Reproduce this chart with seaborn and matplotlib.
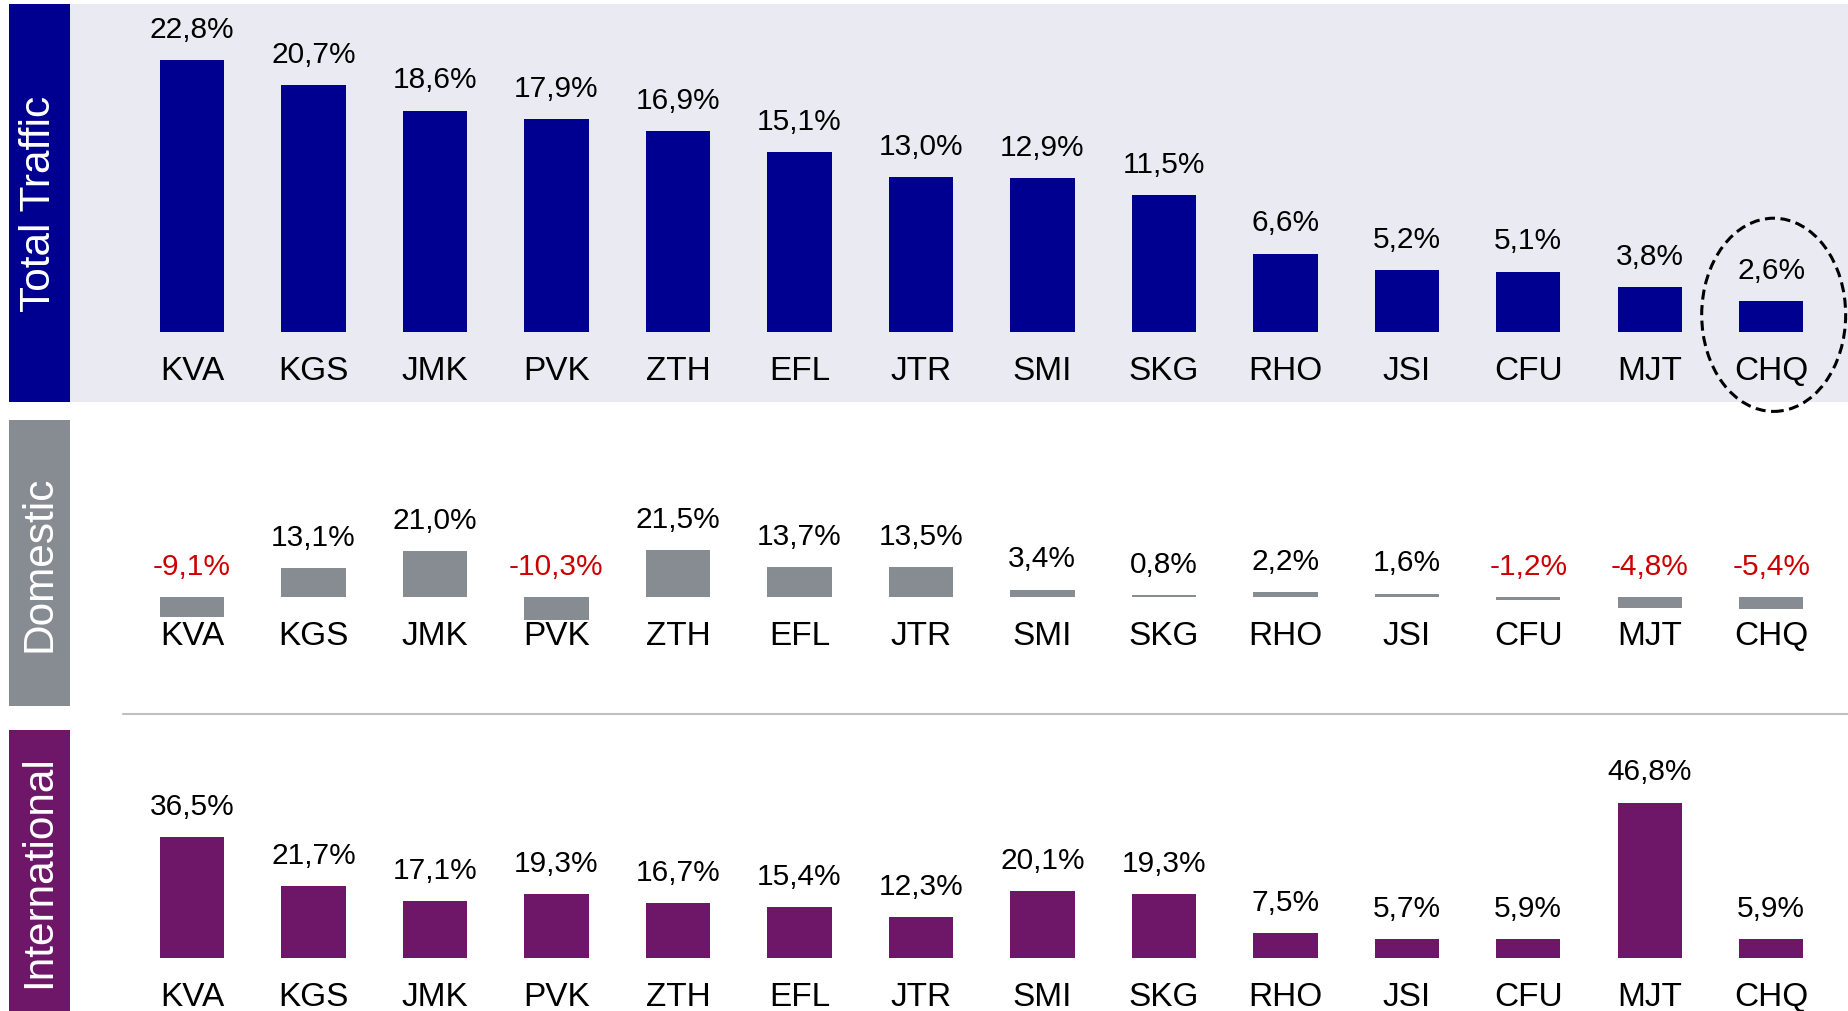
import seaborn as sns
import matplotlib.pyplot as plt
from matplotlib.patches import Ellipse, Rectangle
from matplotlib.lines import Line2D

# data
airports = ['KVA', 'KGS', 'JMK', 'PVK', 'ZTH', 'EFL', 'JTR', 'SMI', 'SKG', 'RHO', 'JSI', 'CFU', 'MJT', 'CHQ']
total_traffic = [22.8, 20.7, 18.6, 17.9, 16.9, 15.1, 13.0, 12.9, 11.5, 6.6, 5.2, 5.1, 3.8, 2.6]
domestic = [-9.1, 13.1, 21.0, -10.3, 21.5, 13.7, 13.5, 3.4, 0.8, 2.2, 1.6, -1.2, -4.8, -5.4]
international = [36.5, 21.7, 17.1, 19.3, 16.7, 15.4, 12.3, 20.1, 19.3, 7.5, 5.7, 5.9, 46.8, 5.9]
highlight = 'CHQ'

sns.set_theme(style='white')
plt.rcParams['font.family'] = ['Liberation Sans', 'DejaVu Sans']

W, H = 1849, 1012
fig = plt.figure(figsize=(W / 100, H / 100), dpi=100)


def fig_rect(x0, y0, x1, y1):
    # pixel box (top-left origin) -> figure fraction rect
    return [x0 / W, 1 - y1 / H, (x1 - x0) / W, (y1 - y0) / H]


# title, values, bar colour, background, top px, bottom px, ylim
panels = [
    ('Total Traffic', total_traffic, '#000090', '#EAEAF2', 5, 403, (-5.84, 27.53)),
    ('Domestic', domestic, '#878C92', 'white', 421, 707, (-49.5, 80.5)),
    ('International', international, '#6E1769', 'white', 731, 1012, (-15.8, 68.6)),
]

axes = []
for title, values, color, bg, y0, y1, ylim in panels:
    ax = fig.add_axes(fig_rect(70, y0, W, y1))
    ax.set_facecolor(bg)
    sns.barplot(x=airports, y=values, color=color, saturation=1, width=0.53,
                linewidth=0, ax=ax)
    ax.set_xlim(-1.004, 13.64)
    ax.set_ylim(*ylim)

    # category labels sit under the zero line
    ax.spines['bottom'].set_position(('data', 0))
    for s in ax.spines.values():
        s.set_visible(False)
    ax.set_yticks([])
    ax.set_ylabel('')
    ax.tick_params(axis='x', length=0, pad=16.5, labelsize=24, labelcolor='black')

    # value labels
    for i, v in enumerate(values):
        txt = f'{v:.1f}%'.replace('.', ',')
        ax.annotate(txt, (i, max(v, 0)), xytext=(0, 22.5), textcoords='offset points',
                    ha='center', va='center', fontsize=21.5,
                    color='#CC0000' if v < 0 else 'black')

    # coloured title box on the left
    fig.add_artist(Rectangle((9 / W, 1 - y1 / H), 61 / W, (y1 - y0) / H,
                             transform=fig.transFigure, facecolor=color, edgecolor='none'))
    fig.text(39.5 / W, 1 - (y0 + y1) / 2 / H, title, rotation=90, color='white',
             fontsize=30.5, ha='center', va='center')
    axes.append(ax)

# dashed ring around the highlighted airport
hi = airports.index(highlight)
axes[0].add_patch(Ellipse((hi + 0.02, 1.47), 1.185, 16.2, fill=False, edgecolor='black',
                          linewidth=2.2, linestyle=(0, (3.3, 1.8)), clip_on=False))

# thin separator between domestic and international
fig.add_artist(Line2D([123 / W, 1], [1 - 714.5 / H] * 2, transform=fig.transFigure,
                      color='#C0C0C0', linewidth=1.5))

fig.savefig('out.png', dpi=100)
